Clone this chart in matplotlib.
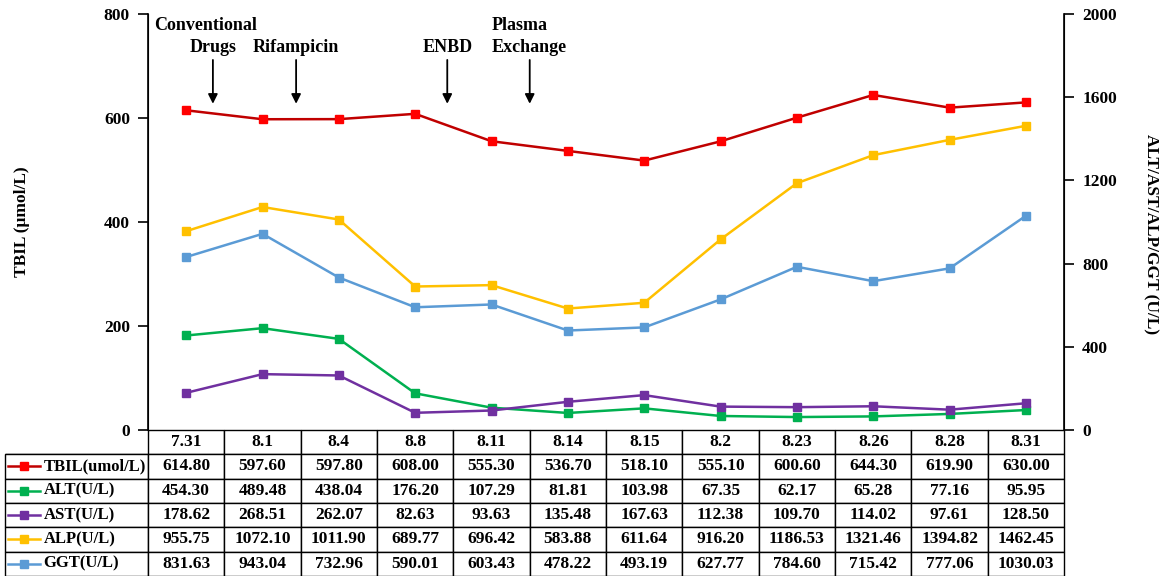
import matplotlib.pyplot as plt

plt.rcParams['font.family'] = ['Liberation Serif', 'DejaVu Serif']
plt.rcParams['font.weight'] = 'bold'

dates = ['7.31', '8.1', '8.4', '8.8', '8.11', '8.14', '8.15', '8.2', '8.23', '8.26', '8.28', '8.31']
tbil = [614.80, 597.60, 597.80, 608.00, 555.30, 536.70, 518.10, 555.10, 600.60, 644.30, 619.90, 630.00]
alt = [454.30, 489.48, 438.04, 176.20, 107.29, 81.81, 103.98, 67.35, 62.17, 65.28, 77.16, 95.95]
ast = [178.62, 268.51, 262.07, 82.63, 93.63, 135.48, 167.63, 112.38, 109.70, 114.02, 97.61, 128.50]
alp = [955.75, 1072.10, 1011.90, 689.77, 696.42, 583.88, 611.64, 916.20, 1186.53, 1321.46, 1394.82, 1462.45]
ggt = [831.63, 943.04, 732.96, 590.01, 603.43, 478.22, 493.19, 627.77, 784.60, 715.42, 777.06, 1030.03]

row_names = ['TBIL(umol/L)', 'ALT(U/L)', 'AST(U/L)', 'ALP(U/L)', 'GGT(U/L)']
line_colors = ['#C00000', '#00B050', '#7030A0', '#FFC000', '#5B9BD5']
marker_colors = ['#FF0000', '#00B050', '#7030A0', '#FFC000', '#5B9BD5']

# positions des flèches (entre les dates)
arrow_x = [0.35, 1.44, 3.42, 4.5]

fig = plt.figure(figsize=(11.7, 5.76), dpi=100)
ax = fig.add_axes([0.1265, 0.2535, 0.783, 0.7222])
ax2 = ax.twinx()

x = list(range(len(dates)))
ax.plot(x, tbil, color=line_colors[0], lw=1.8, marker='s', ms=6,
        mfc=marker_colors[0], mec=marker_colors[0], zorder=5)
for vals, lc, mc in zip([alt, ast, alp, ggt], line_colors[1:], marker_colors[1:]):
    ax2.plot(x, vals, color=lc, lw=1.8, marker='s', ms=6, mfc=mc, mec=mc)

ax.set_xlim(-0.5, len(dates) - 0.5)
ax.set_ylim(0, 800)
ax2.set_ylim(0, 2000)
ax.set_yticks(range(0, 801, 200))
ax2.set_yticks(range(0, 2001, 400))
ax.set_xticks([])
for a in (ax, ax2):
    a.spines['top'].set_visible(False)
    a.spines['bottom'].set_visible(False)
    a.tick_params(axis='y', length=7, width=1.2, labelsize=12.5, pad=6)
ax.spines['left'].set_linewidth(1.2)
ax2.spines['right'].set_linewidth(1.2)
ax.set_ylabel('TBIL (μmol/L)', fontsize=12.5, fontweight='bold', va='center')
ax.yaxis.set_label_coords(-0.137, 0.5)
ax2.set_ylabel('ALT/AST/ALP/GGT (U/L)', fontsize=12.5, fontweight='bold',
               rotation=-90, va='center', ha='center')
ax2.yaxis.set_label_coords(1.094, 0.47)

# flèches et textes
for xpos in arrow_x:
    ax.annotate('', xy=(xpos, 622), xytext=(xpos, 717),
                arrowprops=dict(arrowstyle='-|>', color='black', lw=1.3, mutation_scale=14))
ax.text(-0.42, 778, 'Conventional', fontsize=13, ha='left', va='center')
ax.text(0.35, 735, 'Drugs', fontsize=13, ha='center', va='center')
ax.text(1.44, 735, 'Rifampicin', fontsize=13, ha='center', va='center')
ax.text(3.42, 735, 'ENBD', fontsize=13, ha='center', va='center')
ax.text(4.0, 778, 'Plasma', fontsize=13, ha='left', va='center')
ax.text(4.0, 735, 'Exchange', fontsize=13, ha='left', va='center')

# tableau: première colonne = étiquettes
cell_text = [[name] + [f'{v:.2f}' for v in row]
             for name, row in zip(row_names, [tbil, alt, ast, alp, ggt])]
tb_h = 146 / 416
lab_w = 143 / 916
col_w = [lab_w] + [1 / len(dates)] * len(dates)
tab = ax.table(cellText=cell_text, colLabels=[''] + dates, colWidths=col_w,
               cellLoc='center', bbox=[-lab_w, -tb_h, 1 + lab_w, tb_h])
tab.auto_set_font_size(False)
tab.set_fontsize(12.5)
for (r, c), cell in tab.get_celld().items():
    cell.set_linewidth(1.0)
    cell.get_text().set_fontweight('bold')
    if c == 0:
        cell.get_text().set_ha('left')
        cell.get_text().set_fontsize(12)
        cell.PAD = 0.27
        if r == 0:
            cell.visible_edges = 'B'

# symboles de légende dans la colonne des étiquettes
for i in range(5):
    yc = -tb_h + tb_h * (1 - (i + 1.5) / 6)
    ax.plot([-0.153, -0.118], [yc, yc], transform=ax.transAxes, clip_on=False,
            color=line_colors[i], lw=1.8)
    ax.plot([-0.1355], [yc], transform=ax.transAxes, clip_on=False,
            marker='s', ms=6, color=marker_colors[i])

plt.savefig('out.png', dpi=100)
